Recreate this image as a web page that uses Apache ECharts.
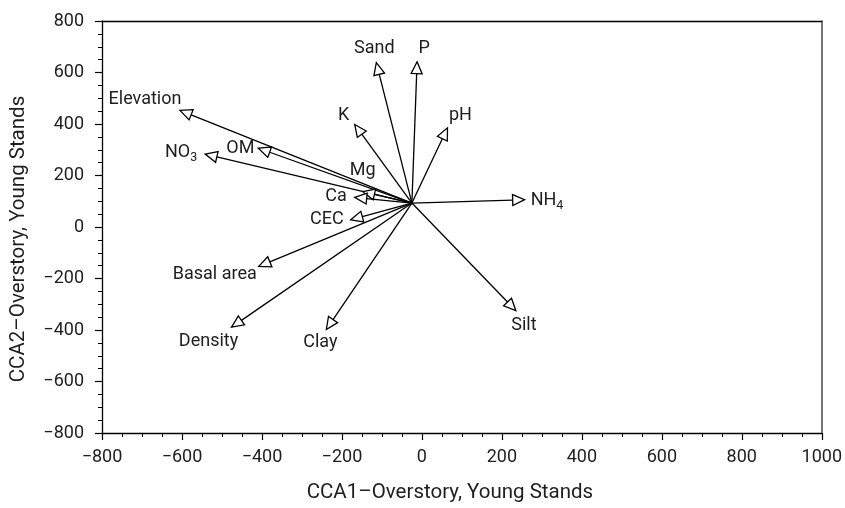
<!DOCTYPE html>
<html>
<head>
<meta charset="utf-8">
<title>CCA biplot – Overstory, Young Stands</title>
<script src="https://cdn.jsdelivr.net/npm/echarts@6/dist/echarts.min.js"></script>
<style>
  html, body { margin: 0; padding: 0; background: #fff; }
  #chart { width: 845px; height: 508px; }
</style>
</head>
<body>
<div id="chart"></div>
<script>
// Environmental variable vectors (CCA1, CCA2 scores)
const variables = ['Elevation', 'NO3', 'OM', 'K', 'Sand', 'P', 'pH', 'Mg', 'Ca', 'CEC', 'NH4', 'Basal area', 'Density', 'Clay', 'Silt'];
const cca1 = [-605, -542, -409, -168, -114, -12, 64, -148, -168, -178, 257, -408, -476, -239, 235];
const cca2 = [453, 283, 306, 398, 638, 642, 385, 137, 115, 28, 106, -153, -389, -398, -325];
// Common start point of all vectors
const originCCA1 = -25;
const originCCA2 = 93;

// Axis ticks
const xTicks = [-800, -600, -400, -200, 0, 200, 400, 600, 800, 1000];
const yTicks = [-800, -600, -400, -200, 0, 200, 400, 600, 800];

// Displayed names (subscripts via rich text)
const displayNames = {
  'NO3': 'NO{s|3}',
  'NH4': 'NH{s|4}'
};

// Label placement relative to arrow tip: [dx, dy, align]
const labelPlacement = {
  'Elevation': [-35, -11, 'center'],
  'NO3': [-8, -2, 'right'],
  'OM': [-4, 0, 'right'],
  'K': [-11, -9.5, 'center'],
  'Sand': [-2, -14, 'center'],
  'P': [7, -13, 'center'],
  'pH': [13, -12, 'center'],
  'Mg': [0, -21, 'center'],
  'Ca': [-8, -1, 'right'],
  'CEC': [-7, 0, 'right'],
  'NH4': [6, 1, 'left'],
  'Basal area': [-2, 8, 'right'],
  'Density': [-23, 14, 'center'],
  'Clay': [-6, 13, 'center'],
  'Silt': [8, 15, 'center']
};

const FONT = 'Roboto, "DejaVu Sans", sans-serif';
const TEXT_COLOR = '#1e1e1e';

const seriesData = variables.map((name, i) => ({ name: name, value: [cca1[i], cca2[i]] }));

function renderArrow(params, api) {
  const name = variables[params.dataIndex];
  const tip = api.coord([api.value(0), api.value(1)]);
  const o = api.coord([originCCA1, originCCA2]);
  const dx = tip[0] - o[0], dy = tip[1] - o[1];
  const len = Math.hypot(dx, dy) || 1;
  const ux = dx / len, uy = dy / len;
  const headLen = 12, headHalf = 5.5;
  const base = [tip[0] - ux * headLen, tip[1] - uy * headLen];
  const p1 = [base[0] - uy * headHalf, base[1] + ux * headHalf];
  const p2 = [base[0] + uy * headHalf, base[1] - ux * headHalf];
  const place = labelPlacement[name];
  return {
    type: 'group',
    children: [
      {
        type: 'line',
        shape: { x1: o[0], y1: o[1], x2: base[0], y2: base[1] },
        style: { stroke: '#000', lineWidth: 1.3 }
      },
      {
        type: 'polygon',
        shape: { points: [tip, p1, p2] },
        style: { fill: '#fff', stroke: '#000', lineWidth: 1.3 }
      },
      {
        type: 'text',
        style: {
          text: displayNames[name] || name,
          x: tip[0] + place[0],
          y: tip[1] + place[1],
          align: place[2],
          verticalAlign: 'middle',
          fontFamily: FONT,
          fontSize: 18,
          fill: TEXT_COLOR,
          rich: {
            s: { fontFamily: FONT, fontSize: 12.5, fill: TEXT_COLOR, verticalAlign: 'bottom', lineHeight: 24 }
          }
        }
      }
    ]
  };
}

const chart = echarts.init(document.getElementById('chart'), null, { renderer: 'canvas' });

const axisLine = { show: true, onZero: false, lineStyle: { color: '#000', width: 1.3 } };
const minusFormatter = v => (v < 0 ? '\u2212' + Math.abs(v) : String(v));

chart.setOption({
  animation: false,
  backgroundColor: '#fff',
  grid: { left: 100, right: 23, top: 21, bottom: 69, containLabel: false },
  xAxis: [
    {
      type: 'value',
      min: xTicks[0],
      max: xTicks[xTicks.length - 1],
      interval: 200,
      position: 'bottom',
      axisLine: axisLine,
      axisTick: { show: true, inside: false, length: 7, lineStyle: { color: '#000', width: 1.2 } },
      minorTick: { show: true, splitNumber: 4, length: 4, lineStyle: { color: '#000', width: 1 } },
      splitLine: { show: false },
      axisLabel: { margin: 15, fontFamily: FONT, fontSize: 18, color: TEXT_COLOR, formatter: minusFormatter },
      name: 'CCA1\u2013Overstory, Young Stands',
      nameLocation: 'middle',
      nameGap: 49,
      nameTextStyle: { fontFamily: FONT, fontSize: 20.5, color: TEXT_COLOR, padding: [0, 24, 0, 0] }
    },
    {
      type: 'value',
      min: xTicks[0],
      max: xTicks[xTicks.length - 1],
      position: 'top',
      axisLine: axisLine,
      axisTick: { show: false },
      axisLabel: { show: false },
      splitLine: { show: false }
    }
  ],
  yAxis: [
    {
      type: 'value',
      min: yTicks[0],
      max: yTicks[yTicks.length - 1],
      interval: 200,
      position: 'left',
      axisLine: axisLine,
      axisTick: { show: true, inside: false, length: 7, lineStyle: { color: '#000', width: 1.2 } },
      minorTick: { show: true, splitNumber: 4, length: 4, lineStyle: { color: '#000', width: 1 } },
      splitLine: { show: false },
      axisLabel: { margin: 18, fontFamily: FONT, fontSize: 18, color: TEXT_COLOR, formatter: minusFormatter },
      name: 'CCA2\u2013Overstory, Young Stands',
      nameLocation: 'middle',
      nameGap: 73,
      nameTextStyle: { fontFamily: FONT, fontSize: 20.5, color: TEXT_COLOR, padding: [0, 24, 0, 0] }
    },
    {
      type: 'value',
      min: yTicks[0],
      max: yTicks[yTicks.length - 1],
      position: 'right',
      axisLine: { show: true, onZero: false, lineStyle: { color: '#555', width: 1.6 } },
      axisTick: { show: false },
      axisLabel: { show: false },
      splitLine: { show: false }
    }
  ],
  series: [
    {
      type: 'custom',
      xAxisIndex: 0,
      yAxisIndex: 0,
      renderItem: renderArrow,
      data: seriesData,
      clip: false,
      silent: true
    }
  ]
});
</script>
</body>
</html>
